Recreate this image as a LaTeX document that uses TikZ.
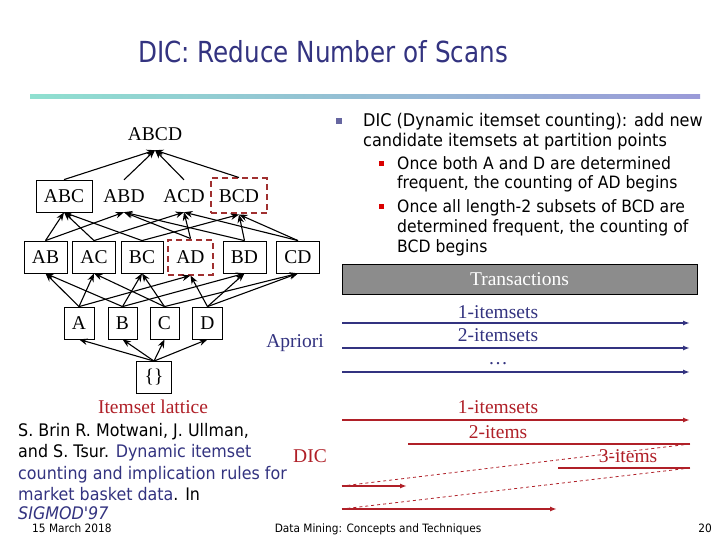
\documentclass[tikz,border=0pt]{standalone}
\usepackage{fontspec}
\setmainfont{Liberation Serif}
\newfontfamily\tah[FakeStretch=0.85]{DejaVu Sans}
\newfontfamily\tahb[FakeStretch=0.92]{DejaVu Sans}
\usetikzlibrary{arrows.meta}
\definecolor{navy}{HTML}{333380}
\definecolor{dred}{HTML}{B02028}
\definecolor{bred}{HTML}{A03030}
\definecolor{tealbar}{HTML}{8FE0D0}
\definecolor{lavbar}{HTML}{9A9AD8}
\definecolor{tgray}{HTML}{8C8C8C}
\tikzset{
  lat/.style={font=\fontsize{19.5}{20}\selectfont, inner xsep=8pt, inner ysep=0pt, minimum height=32pt},
  box/.style={lat, draw, line width=0.8pt},
  dbox/.style={lat, draw=bred, dash pattern=on 6pt off 4pt, line width=2pt, minimum height=35pt},
  latedge/.style={-{Stealth[length=8.5pt,width=6.5pt]}, line width=1.1pt},
  serif/.style={font=\fontsize{19.5}{20}\selectfont, inner sep=0pt, anchor=base},
  sans/.style={font=\tahb\fontsize{17.5}{20}\selectfont, inner sep=0pt, anchor=base west},
  subsans/.style={font=\tahb\fontsize{17}{19}\selectfont, inner sep=0pt, anchor=base west},
  citesans/.style={font=\tahb\fontsize{17.3}{19}\selectfont, inner sep=0pt, anchor=base west},
  foot/.style={font=\tahb\fontsize{11.5}{13}\selectfont, inner sep=0pt},
  apline/.style={navy, line width=2pt, -{Latex[length=7pt,width=5pt]}},
  dicarrow/.style={dred, line width=2pt, -{Latex[length=7pt,width=5pt]}},
  dicline/.style={dred, line width=1.2pt},
  dicdash/.style={dred, line width=0.8pt, dashed},
}
\begin{document}
\begin{tikzpicture}[x=1pt,y=-1pt]
\useasboundingbox (0,0) rectangle (720,540);
\fill[white] (0,0) rectangle (720,540);
% title
\node[font=\tah\fontsize{29}{32}\selectfont, text=navy, inner sep=0pt, anchor=base west] (title) at (138,63) {DIC: Reduce Number of Scans};
\shade[left color=tealbar, right color=lavbar] (30,95) rectangle (700,99);
% lattice
\node[lat] (ABCD) at (155,134) {ABCD};
\node[box] (ABC) at (64,196) {ABC};
\node[lat] (ABD) at (124,196) {ABD};
\node[lat] (ACD) at (184,196) {ACD};
\node[dbox] (BCD) at (239,196) {BCD};
\node[box] (AB) at (45.5,257) {AB};
\node[box] (AC) at (94,257) {AC};
\node[box] (BC) at (142,257) {BC};
\node[dbox] (AD) at (190.5,257) {AD};
\node[box] (BD) at (244.5,257) {BD};
\node[box] (CD) at (298,257) {CD};
\node[box] (A) at (79,323) {A};
\node[box] (B) at (122.5,323) {B};
\node[box] (C) at (164.5,323) {C};
\node[box] (D) at (207.5,323) {D};
\node[box] (E) at (154,377.5) {\{\}};
\foreach \c/\p in {ABC/ABCD,ABD/ABCD,ACD/ABCD,BCD/ABCD,
  AB/ABC,AB/ABD,AC/ABC,AC/ACD,BC/ABC,BC/BCD,AD/ABD,AD/ACD,BD/ABD,BD/BCD,CD/ACD,CD/BCD,
  A/AB,A/AC,A/AD,B/AB,B/BC,B/BD,C/AC,C/BC,C/CD,D/AD,D/BD,D/CD,
  E/A,E/B,E/C,E/D}
  \draw[latedge] (\c.north) -- (\p.south);
\node[serif, text=dred] (lattice) at (153,413) {Itemset lattice};
% bullets
\fill[navy!75] (336,118) rectangle (342,124);
\node[sans] (b1a) at (363,127) {DIC (Dynamic itemset counting): add new};
\node[sans] (b1b) at (363,147) {candidate itemsets at partition points};
\fill[red!85!black] (378.5,161.5) rectangle (383.5,166.5);
\node[subsans] (s1a) at (397,170) {Once both A and D are determined};
\node[subsans] (s1b) at (397,189) {frequent, the counting of AD begins};
\fill[red!85!black] (378.5,204.5) rectangle (383.5,209.5);
\node[subsans] (s2a) at (397,213) {Once all length-2 subsets of BCD are};
\node[subsans] (s2b) at (397,233) {determined frequent, the counting of};
\node[subsans] (s2c) at (397,252) {BCD begins};
% transactions
\node[draw, fill=tgray, line width=0.8pt, minimum width=355pt, minimum height=30pt, inner sep=0pt, text=white, font=\fontsize{19.5}{20}\selectfont] (trans) at (519.5,279) {Transactions};
% apriori
\node[serif, text=navy] (apriori) at (295,347) {Apriori};
\coordinate (p1s) at (342,323); \coordinate (p1e) at (690,323);
\coordinate (p2s) at (342,348); \coordinate (p2e) at (690,348);
\coordinate (p3s) at (342,372); \coordinate (p3e) at (690,372);
\draw[apline] (p1s) -- (p1e);
\draw[apline] (p2s) -- (p2e);
\draw[apline] (p3s) -- (p3e);
\node[serif, text=navy] (a1) at (498,318) {1-itemsets};
\node[serif, text=navy] (a2) at (498,341) {2-itemsets};
\node[serif, text=navy] (a3) at (498,364) {\dots};
% DIC
\node[serif, text=dred] (dic) at (310,462) {DIC};
\coordinate (d1s) at (342,420); \coordinate (d1e) at (690,420);
\coordinate (d2s) at (408,444); \coordinate (d2e) at (690,444);
\coordinate (d2bs) at (342,486); \coordinate (d2be) at (407,486);
\coordinate (d3s) at (558,468); \coordinate (d3e) at (690,468);
\coordinate (d3bs) at (342,509); \coordinate (d3be) at (557,509);
\draw[dicarrow] (d1s) -- (d1e);
\draw[dicline] (d2s) -- (d2e);
\draw[dicdash] (d2e) -- (d2bs);
\draw[dicarrow] (d2bs) -- (d2be);
\draw[dicline] (d3s) -- (d3e);
\draw[dicdash] (d3e) -- (d3bs);
\draw[dicarrow] (d3bs) -- (d3be);
\node[serif, text=dred] (l1) at (498,413) {1-itemsets};
\node[serif, text=dred] (l2) at (498,438) {2-items};
\node[serif, text=dred] (l3) at (628,462) {3-items};
% citation
\node[citesans] (c1) at (18,436) {S. Brin R. Motwani, J. Ullman,};
\node[citesans] (c2) at (18,457) {and S. Tsur. \textcolor{navy}{Dynamic itemset}};
\node[citesans, text=navy] (c3) at (18,479) {counting and implication rules for};
\node[citesans] (c4) at (18,500) {\textcolor{navy}{market basket data}. In};
\node[citesans, text=navy] (c5) at (18,519) {\itshape SIGMOD'97};
% footer
\node[foot, anchor=base west] (date) at (32,532) {15 March 2018};
\node[foot, anchor=base] (course) at (378,532) {Data Mining: Concepts and Techniques};
\node[foot, anchor=base east] (page) at (712,532) {20};
\end{tikzpicture}
\end{document}
